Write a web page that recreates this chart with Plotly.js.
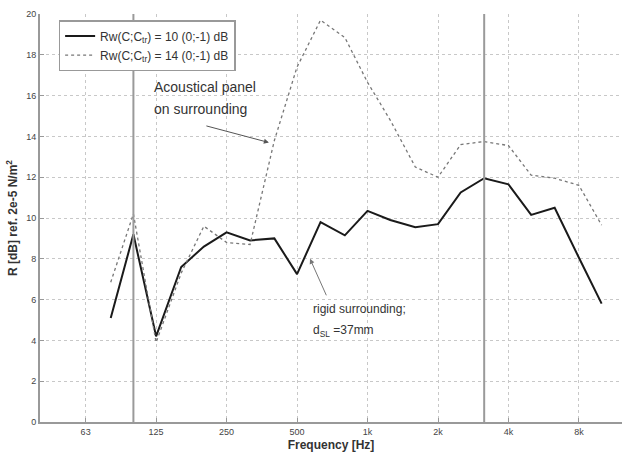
<!DOCTYPE html>
<html>
<head>
<meta charset="utf-8">
<script src="https://cdn.plot.ly/plotly-3.0.1.min.js"></script>
<style>html,body{margin:0;padding:0;background:#fff;}#chart{width:622px;height:454px;}</style>
</head>
<body>
<div id="chart"></div>
<script>
// 1/3-octave band centre frequencies (Hz)
const freqs = [80, 100, 125, 160, 200, 250, 315, 400, 500, 630, 800, 1000, 1250, 1600, 2000, 2500, 3150, 4000, 5000, 6300, 8000, 10000];
// rigid surrounding
const rigid = [5.1, 9.2, 4.2, 7.6, 8.6, 9.3, 8.9, 9.0, 7.25, 9.8, 9.15, 10.35, 9.9, 9.55, 9.7, 11.25, 11.95, 11.65, 10.15, 10.5, 8.05, 5.8];
// acoustical panel on surrounding
const panel = [6.85, 10.2, 3.9, 7.3, 9.6, 8.8, 8.7, 13.8, 17.4, 19.7, 18.85, 16.65, 14.8, 12.5, 12.0, 13.6, 13.75, 13.55, 12.1, 11.95, 11.6, 9.65];
const seriesNames = ["Rw(C;C<sub>tr</sub>) = 10 (0;-1) dB", "Rw(C;C<sub>tr</sub>) = 14 (0;-1) dB"];
const tickVals = [62.5, 125, 250, 500, 1000, 2000, 4000, 8000];
const tickText = ["63", "125", "250", "500", "1k", "2k", "4k", "8k"];
const yTicks = [0, 2, 4, 6, 8, 10, 12, 14, 16, 18, 20];
const markerFreqs = [100, 3150];

const font = "Liberation Sans, Arial, sans-serif";

const traces = [
  {x: freqs, y: rigid, name: seriesNames[0], mode: "lines", type: "scatter",
   line: {color: "#1a1a1a", width: 2}},
  {x: freqs, y: panel, name: seriesNames[1], mode: "lines", type: "scatter",
   line: {color: "#777777", width: 1.3, dash: "dot"}}
];

const shapes = markerFreqs.map(f => ({
  type: "line", xref: "x", yref: "paper", x0: f, x1: f, y0: 0, y1: 1,
  line: {color: "#9a9a9a", width: 2}
}));

const layout = {
  width: 622, height: 454,
  margin: {l: 40, r: 0, t: 14, b: 32, autoexpand: false},
  paper_bgcolor: "#fff", plot_bgcolor: "#fff",
  font: {family: font, color: "#333"},
  showlegend: true,
  legend: {x: 0.032, y: 0.985, xanchor: "left", yanchor: "top",
    bgcolor: "#fff", bordercolor: "#999", borderwidth: 1.5,
    font: {family: font, size: 12, color: "#333"}, tracegroupgap: 0, itemwidth: 30},
  xaxis: {type: "log", range: [1.601, 4.087], tickvals: tickVals, ticktext: tickText,
    showgrid: true, gridcolor: "#c8c8c8", griddash: "dot", gridwidth: 1,
    showline: true, linecolor: "#999", linewidth: 2, zeroline: false,
    ticks: "inside", ticklen: 4, tickcolor: "#999",
    tickfont: {size: 9, color: "#444"},
    title: {text: "<b>Frequency [Hz]</b>", font: {size: 12, family: font, color: "#333"}, standoff: 5}},
  yaxis: {range: [0, 20], tickvals: yTicks,
    showgrid: true, gridcolor: "#c8c8c8", griddash: "dot", gridwidth: 1,
    showline: true, linecolor: "#999", linewidth: 2, zeroline: false,
    ticks: "inside", ticklen: 4, tickcolor: "#999",
    tickfont: {size: 9, color: "#444"},
    title: {text: "<b>R [dB] ref. 2e-5 N/m<sup>2</sup></b>", font: {size: 12, family: font, color: "#333"}, standoff: 6}},
  shapes: shapes,
  annotations: [
    {x: 0.192, y: 0.82, xref: "paper", yref: "paper", xanchor: "left", yanchor: "middle", align: "left",
     showarrow: false, text: "Acoustical panel",
     font: {family: font, size: 14, color: "#333"}},
    {x: 0.192, y: 0.767, xref: "paper", yref: "paper", xanchor: "left", yanchor: "middle", align: "left",
     showarrow: false, text: "on surrounding",
     font: {family: font, size: 14, color: "#333"}},
    {x: Math.log10(379), y: 13.7, xref: "x", yref: "y", showarrow: true, text: "",
     ax: -64, ay: -17, arrowhead: 2, arrowsize: 1, arrowwidth: 1, arrowcolor: "#555"},
    {x: 0.465, y: 0.278, xref: "paper", yref: "paper", xanchor: "left", yanchor: "middle", align: "left",
     showarrow: false, text: "rigid surrounding;",
     font: {family: font, size: 12, color: "#333"}},
    {x: 0.465, y: 0.222, xref: "paper", yref: "paper", xanchor: "left", yanchor: "middle", align: "left",
     showarrow: false, text: "d<sub>SL</sub> =37mm",
     font: {family: font, size: 12, color: "#333"}},
    {x: Math.log10(568), y: 8.0, xref: "x", yref: "y", showarrow: true, text: "",
     ax: 17, ay: 38, arrowhead: 2, arrowsize: 1, arrowwidth: 1, arrowcolor: "#777"}
  ]
};

Plotly.newPlot("chart", traces, layout, {displayModeBar: false, staticPlot: true});
</script>
</body>
</html>
